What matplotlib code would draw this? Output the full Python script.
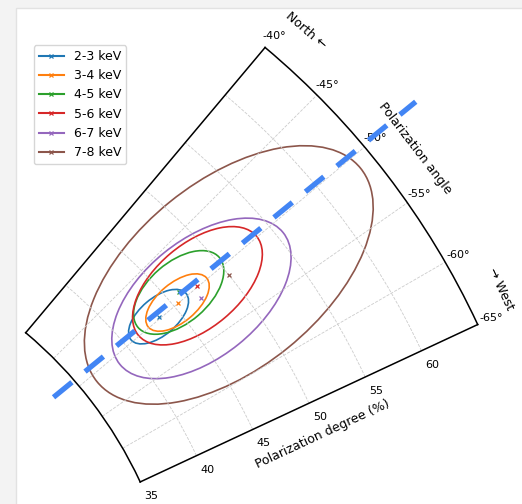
import numpy as np
import matplotlib
matplotlib.use("Agg")
import matplotlib.pyplot as plt
from matplotlib.patches import Ellipse, Rectangle
from matplotlib.lines import Line2D

# energy bins and their contours (PD in %, PA in degrees)
labels = ["2-3 keV", "3-4 keV", "4-5 keV", "5-6 keV", "6-7 keV", "7-8 keV"]
colors = ["tab:blue", "tab:orange", "tab:green", "tab:red", "tab:purple", "tab:brown"]
pd_center = [43.5, 45.4, 46.0, 47.5, 47.1, 50.0]
pa_center = [-49.75, -49.9, -49.2, -49.9, -51.1, -51.0]
# contour half sizes in PD units: along the radius and across it
pd_err = [2.90, 3.07, 4.32, 6.21, 8.45, 13.66]
cross_err = [1.50, 1.57, 2.43, 3.39, 4.75, 7.56]

# reference direction line (PA, PD end points)
line_pa = [-48.86, -49.89]
line_pd = [32.85, 70.5]

theta_ticks = [-65, -60, -55, -50, -45, -40]
r_ticks = [35, 40, 45, 50, 55, 60]

W, H = 522, 504
fig = plt.figure(figsize=(W / 100, H / 100), dpi=100)
fig.patch.set_facecolor("#f3f3f3")
fig.add_artist(Rectangle((16 / W, -0.01), 1.1, 1.01 - 8 / H, transform=fig.transFigure,
                         fc="white", ec="#e2e2e2", lw=1.0, zorder=-10))

aw, ah = 466, 452
ax = fig.add_axes([(251.7 - aw / 2) / W, 1 - (264.7 + ah / 2) / H, aw / W, ah / H],
                  projection="polar")
ax.set_theta_zero_location("N")
ax.set_thetamin(-65)
ax.set_thetamax(-40)
ax.set_rlim(35, 65)
ax.set_rorigin(0)
ax.set_thetagrids(theta_ticks)
ax.set_rticks(r_ticks)
ax.tick_params(labelsize=8, length=0)
ax.tick_params(axis="y", pad=7)
ax.grid(color="0.8", lw=0.6, ls="--")
for sp in ax.spines.values():
    sp.set_linewidth(1.1)

# contours are drawn in the projected (cartesian) plane of the polar axes
to_proj = ax.transScale + ax.transShift + ax.transProjection
proj_trans = ax.transProjectionAffine + ax.transWedge + ax.transAxes
for i in range(len(labels)):
    cxy = to_proj.transform([[np.deg2rad(pa_center[i]), pd_center[i]]])[0]
    el = Ellipse(cxy, width=2 * cross_err[i], height=2 * pd_err[i], angle=pa_center[i],
                 fill=False, ec=colors[i], lw=1.2, transform=proj_trans)
    ax.add_patch(el)
    ax.plot(np.deg2rad(pa_center[i]), pd_center[i], "x", color=colors[i], ms=3.5, mew=0.9)

ax.plot(np.deg2rad(line_pa), line_pd, color="#4285f4", lw=3.8,
        ls=(0, (4.5, 3.2)), clip_on=False, zorder=6)

ax.text(np.deg2rad(-41.4), 68.2, "North \u2190", rotation=-41, ha="center", va="center", fontsize=9)
ax.text(np.deg2rad(-63.5), 67.9, "\u2192 West", rotation=-65, ha="center", va="center", fontsize=9)
ax.text(np.deg2rad(-52.3), 68.1, "Polarization angle", rotation=-52.5, ha="center", va="center", fontsize=9)
ax.text(np.deg2rad(-68.15), 50.0, "Polarization degree (%)", rotation=25, ha="center", va="center", fontsize=9)

handles = [Line2D([], [], color=c, marker="x", ms=3, mew=0.9) for c in colors]
fig.legend(handles, labels, loc="upper left", bbox_to_anchor=(33.5 / W, 1 - 45 / H),
           borderaxespad=0, fontsize=9)

fig.savefig("out.png", dpi=100, facecolor=fig.get_facecolor())
